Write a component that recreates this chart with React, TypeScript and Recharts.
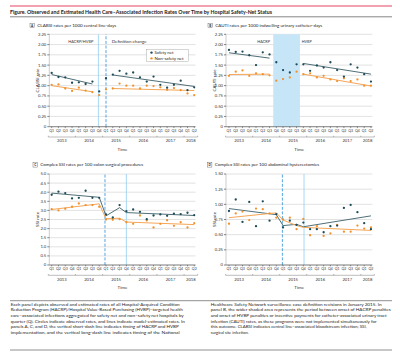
import React from "react";
import {
  ComposedChart,
  Scatter,
  Line,
  XAxis,
  YAxis,
  CartesianGrid,
  ReferenceLine,
  ReferenceArea,
} from "recharts";

const quarterLabels = [
  "Q1", "Q2", "Q3", "Q4", "Q1", "Q2", "Q3", "Q4", "Q1", "Q2", "Q3",
  "Q4", "Q1", "Q2", "Q3", "Q4", "Q1", "Q2", "Q3", "Q4", "Q1", "Q2",
];
const yearLabels = ["2013", "2014", "2015", "2016", "2017", "2018"];
const quarterTicks = quarterLabels.map((_, i) => i);

// A: CLABSI
const clabsiSafety = [1.31, 1.21, 1.2, 1.07, 1.08, 1.04, 1.1, 0.86, 1.18, 1.27, 1.36, 1.29, 1.32, 1.2, 1.1, 1.22, 1.02, 0.95, 1.02, 1.12, 0.89, 0.96];
const clabsiNonSafety = [1.02, 1.03, 0.93, 0.87, 0.95, 0.88, 0.84, 0.77, 0.91, 0.93, 1.05, 1.0, 1.0, 0.93, 1.0, 0.99, 0.96, 0.9, 0.94, 0.89, 0.81, 0.77];
const clabsiSafetyFit = [[{ i: 0, v: 1.27 }, { i: 6, v: 1.04 }], [{ i: 9, v: 1.26 }, { i: 21, v: 0.98 }]];
const clabsiNonSafetyFit = [[{ i: 0, v: 1.0 }, { i: 6, v: 0.85 }], [{ i: 9, v: 0.93 }, { i: 21, v: 0.88 }]];

// B: CAUTI
const cautiSafety = [1.87, 1.82, 1.83, 1.74, 1.5, 1.81, 1.76, 1.57, 1.38, 1.32, 1.52, 1.52, 1.36, 1.49, 1.44, 1.57, 1.38, 1.22, 1.52, 1.44, 1.28, 1.1];
const cautiNonSafety = [1.24, 1.34, 1.37, 1.24, 1.3, 1.28, 1.25, 1.12, 1.16, 1.2, 1.34, 1.28, 1.3, 1.2, 1.24, 1.15, 1.11, 1.18, 1.11, 1.15, 1.0, 1.0];
const cautiSafetyFit = [[{ i: 0, v: 1.8 }, { i: 6, v: 1.67 }], [{ i: 11, v: 1.54 }, { i: 21, v: 1.28 }]];
const cautiNonSafetyFit = [[{ i: 0, v: 1.27 }, { i: 6, v: 1.28 }], [{ i: 11, v: 1.28 }, { i: 21, v: 0.99 }]];

// C: colon SSI
const colonSafety = [3.86, 4.03, 3.95, 3.66, 3.69, 4.08, 3.69, 3.69, 2.78, 2.61, 3.29, 2.96, 3.05, 2.92, 2.52, 2.72, 2.78, 2.7, 2.82, 2.8, 2.87, 2.74];
const colonNonSafety = [3.07, 3.0, 3.09, 3.2, 3.38, 3.29, 3.29, 3.2, 2.5, 2.48, 2.52, 2.35, 2.26, 2.72, 2.45, 2.06, 2.26, 2.46, 2.15, 2.35, 2.06, 2.3];
const colonSafetyFit = [[{ i: 0, v: 3.95 }, { i: 7, v: 3.72 }, { i: 8, v: 2.7 }, { i: 10, v: 3.15 }, { i: 11, v: 2.88 }, { i: 21, v: 2.72 }]];
const colonNonSafetyFit = [[{ i: 0, v: 3.05 }, { i: 7, v: 3.36 }, { i: 8, v: 2.54 }, { i: 10, v: 2.57 }, { i: 11, v: 2.36 }, { i: 21, v: 2.22 }]];

// D: hysterectomy SSI
const hystSafety = [0.89, 1.08, 0.71, 1.04, 0.64, 1.05, 0.73, 0.84, 0.62, 0.73, 0.66, 0.7, 0.59, 0.59, 0.54, 0.64, 0.65, 0.94, 0.99, 0.87, 0.69, 0.59];
const hystNonSafety = [0.68, 0.85, 0.88, 0.74, 0.93, 0.92, 0.85, 0.78, 0.75, 0.78, 0.59, 0.76, 0.49, 0.64, 0.48, 0.52, 0.66, 0.55, 0.55, 0.65, 0.6, 0.62];
const hystSafetyFit = [[{ i: 0, v: 0.93 }, { i: 7, v: 0.83 }, { i: 8, v: 0.65 }, { i: 10, v: 0.67 }, { i: 11, v: 0.63 }, { i: 21, v: 0.81 }]];
const hystNonSafetyFit = [[{ i: 0, v: 0.78 }, { i: 7, v: 0.86 }, { i: 8, v: 0.74 }, { i: 10, v: 0.65 }, { i: 11, v: 0.62 }, { i: 21, v: 0.57 }]];

const ticks225 = [0, 0.25, 0.5, 0.75, 1, 1.25, 1.5, 1.75, 2, 2.25];
const ticks50 = [0, 0.5, 1, 1.5, 2, 2.5, 3, 3.5, 4, 4.5, 5];
const ticks150 = [0, 0.25, 0.5, 0.75, 1, 1.25, 1.5];

const footLeft = [
  "Each panel depicts observed and estimated rates of all Hospital-Acquired Condition",
  "Reduction Program (HACRP)/Hospital Value-Based Purchasing (HVBP)–targeted health",
  "care–associated infections aggregated for safety net and non–safety net hospitals by",
  "quarter (Q). Circles indicate observed rates, and lines indicate model-estimated rates. In",
  "panels A, C, and D, the vertical short-dash line indicates timing of HACRP and HVBP",
  "implementation, and the vertical long-dash line indicates timing of the National",
];
const footRight = [
  "Healthcare Safety Network surveillance case definition revisions in January 2015. In",
  "panel B, the wider shaded area represents the period between onset of HACRP penalties",
  "and onset of HVBP penalties or incentive payments for catheter-associated urinary tract",
  "infection (CAUTI) rates, as these programs were not implemented simultaneously for",
  "this outcome. CLABSI indicates central line–associated bloodstream infection; SSI,",
  "surgical site infection.",
];
const footLeftW = [169, 172, 173, 174, 168, 169];
const footRightW = [171, 180, 176, 166, 156, 38];

const TEAL = "#1d4b58";
const TEAL_LINE = "#4f6f78";
const ORANGE = "#f2922d";
const ORANGE_LINE = "#f6a656";
const FONT = "Lato, 'Open Sans', sans-serif";

const fmt2 = (v: number) => (v === 0 ? "0" : v.toFixed(2));
const fmt1 = (v: number) => (v === 0 ? "0" : v.toFixed(1));

type Seg = { i: number; v: number }[];

function Panel(props: any) {
  const {
    left, top, width, height, mTop, mRight, yWidth, xHeight, xDomain,
    yMax, yTicks, yFmt, yLabel, safety, nonSafety, safetyFit, nonSafetyFit,
    refs, area,
  } = props;
  const plotW = width - yWidth - mRight;
  const pxPerQ = plotW / (xDomain[1] - xDomain[0]);
  const half = pxPerQ / 2;
  const rows = quarterTicks.map((i) => ({ i, safety: safety[i], non: nonSafety[i] }));

  const QuarterTick = (p: any) => {
    const { x, y, payload } = p;
    const i = payload.value as number;
    const last = i === quarterLabels.length - 1;
    const by = y + 10.3;
    // year label sits in the middle of its quarters
    const yearX = last ? x - half : x + half;
    return (
      <g>
        <line x1={x} y1={y} x2={x} y2={y + 1.4} stroke="#333" strokeWidth={0.5} />
        <text x={x} y={y + 4.9} fontSize={3.5} textAnchor="middle" fill="#333" fontFamily={FONT}>
          {quarterLabels[i]}
        </text>
        <line x1={x - half} y1={by} x2={x + half} y2={by} stroke="#555" strokeWidth={0.4} />
        {i % 4 === 0 && (
          <line x1={x - half} y1={by - 1.3} x2={x - half} y2={by} stroke="#555" strokeWidth={0.4} />
        )}
        {last && <line x1={x + half} y1={by - 1.3} x2={x + half} y2={by} stroke="#555" strokeWidth={0.4} />}
        {i % 4 === 1 && (
          <text x={yearX} y={y + 15.7} fontSize={4.2} textAnchor="middle" fill="#333" fontFamily={FONT}>
            {yearLabels[Math.floor(i / 4)]}
          </text>
        )}
      </g>
    );
  };

  const dot = (color: string) => (p: any) => <circle cx={p.cx} cy={p.cy} r={1.15} fill={color} />;

  return (
    <div style={{ position: "absolute", left, top }}>
      <ComposedChart
        width={width}
        height={height}
        margin={{ top: mTop, right: mRight, bottom: 0, left: 0 }}
      >
        <CartesianGrid vertical={false} stroke="#dadada" strokeWidth={0.8} />
        {area && (
          <ReferenceArea x1={area[0]} x2={area[1]} fill="#c6e6f8" fillOpacity={1} stroke="none" ifOverflow="visible" />
        )}
        <XAxis
          dataKey="i"
          type="number"
          domain={xDomain}
          allowDataOverflow
          ticks={quarterTicks}
          interval={0}
          height={xHeight}
          tickSize={0}
          tickMargin={0}
          tickLine={false}
          axisLine={{ stroke: "#444", strokeWidth: 0.6 }}
          tick={QuarterTick}
          label={{
            value: "Time",
            position: "insideBottom",
            offset: xHeight - 24.2,
            style: { fontSize: 4.5, fill: "#333", fontFamily: FONT },
          }}
        />
        <YAxis
          type="number"
          domain={[0, yMax]}
          allowDataOverflow
          ticks={yTicks}
          interval={0}
          width={yWidth}
          tickSize={2}
          tickMargin={1}
          tickFormatter={yFmt}
          tickLine={{ stroke: "#333", strokeWidth: 0.6 }}
          axisLine={{ stroke: "#999", strokeWidth: 0.5 }}
          tick={{ fontSize: 4.2, fill: "#333", fontFamily: FONT }}
          label={{
            value: yLabel,
            angle: -90,
            position: "insideLeft",
            offset: yWidth - 11.5,
            style: { fontSize: 4.5, fill: "#333", fontFamily: FONT, textAnchor: "middle" },
          }}
        />
        {refs.map((r: any, k: number) => (
          <ReferenceLine
            key={k}
            x={r.x}
            stroke={r.dashed ? "#2b8fd8" : "#92cff1"}
            strokeWidth={0.8}
            strokeDasharray={r.dashed ? "3 1.6" : undefined}
          />
        ))}
        {safetyFit.map((s: Seg, k: number) => (
          <Line key={"sf" + k} data={s} dataKey="v" stroke={TEAL_LINE} strokeWidth={1} dot={false} isAnimationActive={false} />
        ))}
        {nonSafetyFit.map((s: Seg, k: number) => (
          <Line key={"nf" + k} data={s} dataKey="v" stroke={ORANGE_LINE} strokeWidth={1} dot={false} isAnimationActive={false} />
        ))}
        <Scatter data={rows} dataKey="non" fill={ORANGE} shape={dot(ORANGE)} isAnimationActive={false} />
        <Scatter data={rows} dataKey="safety" fill={TEAL} shape={dot(TEAL)} isAnimationActive={false} />
      </ComposedChart>
    </div>
  );
}

function PanelTag({ x, y, letter, text, w }: any) {
  return (
    <g>
      <rect x={x} y={y} width={4.4} height={4.4} fill="#fff" stroke="#555" strokeWidth={0.4} />
      <text x={x + 2.2} y={y + 3.4} fontSize={3.2} fontWeight={700} textAnchor="middle" fill="#222">
        {letter}
      </text>
      <text x={x + 7.3} y={y + 3.6} fontSize={4.4} fill="#222" textLength={w} lengthAdjust="spacingAndGlyphs">
        {text}
      </text>
    </g>
  );
}

export default function App() {
  return (
    <div
      style={{
        position: "absolute",
        left: 0,
        top: 0,
        width: 400,
        height: 353,
        background: "#fff",
        overflow: "hidden",
        fontFamily: FONT,
      }}
    >
      <Panel
        left={0} top={28} width={200} height={130} mTop={6.3} mRight={4.5}
        yWidth={49.3} xHeight={31.3} xDomain={[-0.35, 21.18]}
        yMax={2.25} yTicks={ticks225} yFmt={fmt2} yLabel="CLABSI rate"
        safety={clabsiSafety} nonSafety={clabsiNonSafety}
        safetyFit={clabsiSafetyFit} nonSafetyFit={clabsiNonSafetyFit}
        refs={[{ x: 6.88, dashed: false }, { x: 8, dashed: true }]}
      />
      <Panel
        left={180} top={28} width={200} height={130} mTop={6.3} mRight={7.7}
        yWidth={46} xHeight={31.3} xDomain={[-0.44, 21.2]}
        yMax={2.25} yTicks={ticks225} yFmt={fmt2} yLabel="CAUTI rate"
        safety={cautiSafety} nonSafety={cautiNonSafety}
        safetyFit={cautiSafetyFit} nonSafetyFit={cautiNonSafetyFit}
        refs={[]} area={[6.55, 10.5]}
      />
      <Panel
        left={0} top={168} width={200} height={130} mTop={6} mRight={4.5}
        yWidth={49.3} xHeight={33} xDomain={[-0.35, 21.18]}
        yMax={5} yTicks={ticks50} yFmt={fmt1} yLabel="SSI rate"
        safety={colonSafety} nonSafety={colonNonSafety}
        safetyFit={colonSafetyFit} nonSafetyFit={colonNonSafetyFit}
        refs={[{ x: 7.85, dashed: true }, { x: 11, dashed: false }]}
      />
      <Panel
        left={180} top={168} width={200} height={130} mTop={6} mRight={7.7}
        yWidth={46} xHeight={33} xDomain={[-0.44, 21.2]}
        yMax={1.5} yTicks={ticks150} yFmt={fmt2} yLabel="SSI rate"
        safety={hystSafety} nonSafety={hystNonSafety}
        safetyFit={hystSafetyFit} nonSafetyFit={hystNonSafetyFit}
        refs={[{ x: 7.9, dashed: true }, { x: 11.1, dashed: false }]}
      />
      <svg
        width={400}
        height={353}
        style={{ position: "absolute", left: 0, top: 0, pointerEvents: "none" }}
        fontFamily={FONT}
      >
        <rect x={10} y={5.2} width={382} height={1.6} fill="#ee8a9d" />
        <text x={10} y={14.2} fontSize={5.5} fontWeight={700} fill="#222" textLength={262} lengthAdjust="spacingAndGlyphs">
          Figure. Observed and Estimated Health Care–Associated Infection Rates Over Time by Hospital Safety-Net Status
        </text>
        <line x1={10} y1={16.8} x2={392} y2={16.8} stroke="#333" strokeWidth={0.6} />

        <PanelTag x={30} y={23.2} letter="A" text="CLABSI rates per 1000 central line-days" w={79} />
        <PanelTag x={208} y={23.2} letter="B" text="CAUTI rates per 1000 indwelling urinary catheter-days" w={107} />
        <PanelTag x={33} y={162.7} letter="C" text="Complex SSI rates per 100 colon surgical procedures" w={103} />
        <PanelTag x={207.5} y={162.7} letter="D" text="Complex SSI rates per 100 abdominal hysterectomies" w={104.5} />

        <text x={68.3} y={43.2} fontSize={4.2} fill="#333" textLength={25} lengthAdjust="spacingAndGlyphs">HACRP/HVBP</text>
        <text x={111.7} y={43.2} fontSize={4.2} fill="#333" textLength={35} lengthAdjust="spacingAndGlyphs">Definition change</text>
        <text x={257.3} y={42.7} fontSize={4.2} fill="#333" textLength={12.7} lengthAdjust="spacingAndGlyphs">HACRP</text>
        <text x={301.7} y={42.7} fontSize={4.2} fill="#333" textLength={10} lengthAdjust="spacingAndGlyphs">HVBP</text>

        <rect x={146.7} y={49.3} width={41.6} height={12.4} fill="#fff" stroke="#999" strokeWidth={0.4} />
        <circle cx={151.5} cy={52.6} r={1.2} fill={TEAL} />
        <text x={154.5} y={54} fontSize={3.9} fill="#222" textLength={19} lengthAdjust="spacingAndGlyphs">Safety net</text>
        <circle cx={151.5} cy={58.4} r={1.2} fill={ORANGE} />
        <text x={154.5} y={59.8} fontSize={3.9} fill="#222" textLength={29} lengthAdjust="spacingAndGlyphs">Non-safety net</text>

        <line x1={10} y1={300.7} x2={392} y2={300.7} stroke="#444" strokeWidth={0.6} />
        {footLeft.map((t, k) => (
          <text key={"l" + k} x={10.7} y={305.9 + k * 5.55} fontSize={4.6} fill="#222" textLength={footLeftW[k]} lengthAdjust="spacingAndGlyphs">
            {t}
          </text>
        ))}
        {footRight.map((t, k) => (
          <text key={"r" + k} x={210.7} y={305.9 + k * 5.55} fontSize={4.6} fill="#222" textLength={footRightW[k]} lengthAdjust="spacingAndGlyphs">
            {t}
          </text>
        ))}
        <line x1={10} y1={350} x2={392} y2={350} stroke="#444" strokeWidth={0.6} />
      </svg>
    </div>
  );
}
